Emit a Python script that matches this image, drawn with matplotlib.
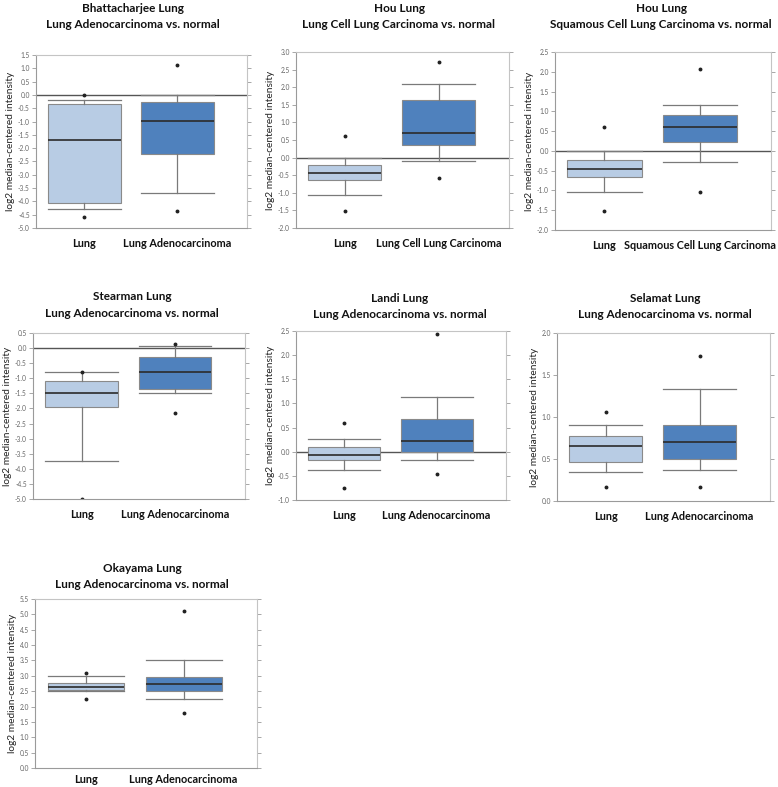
import matplotlib
matplotlib.use("Agg")
import matplotlib.pyplot as plt
from matplotlib.ticker import MultipleLocator, FormatStrFormatter

plt.rcParams['font.family'] = ['Lato', 'DejaVu Sans']

W, H = 778, 787

# panel titles and group names
datasets = ["Bhattacharjee Lung", "Hou Lung", "Hou Lung", "Stearman Lung",
            "Landi Lung", "Selamat Lung", "Okayama Lung"]
comparisons = ["Lung Adenocarcinoma vs. normal",
               "Lung Cell Lung Carcinoma vs. normal",
               "Squamous Cell Lung Carcinoma vs. normal",
               "Lung Adenocarcinoma vs. normal",
               "Lung Adenocarcinoma vs. normal",
               "Lung Adenocarcinoma vs. normal",
               "Lung Adenocarcinoma vs. normal"]
normal_label = "Lung"
tumor_labels = ["Lung Adenocarcinoma", "Lung Cell Lung Carcinoma",
                "Squamous Cell Lung Carcinoma", "Lung Adenocarcinoma",
                "Lung Adenocarcinoma", "Lung Adenocarcinoma",
                "Lung Adenocarcinoma"]

# normal lung boxes
normal_hi = [-0.20, 0.00, 0.00, -0.80, 0.26, 0.90, 2.98]
normal_q3 = [-0.33, -0.22, -0.22, -1.10, 0.10, 0.77, 2.77]
normal_med = [-1.68, -0.45, -0.46, -1.48, -0.07, 0.65, 2.63]
normal_q1 = [-4.07, -0.65, -0.65, -1.95, -0.18, 0.47, 2.55]
normal_lo = [-4.27, -1.05, -1.05, -3.75, -0.38, 0.34, 2.52]
normal_out = [[0.0, -4.57], [0.62, -1.53], [0.60, -1.53], [-0.78, -5.0],
              [0.60, -0.75], [1.06, 0.17], [3.08, 2.23]]

# tumour boxes
tumor_hi = [0.00, 2.10, 1.17, 0.08, 1.13, 1.33, 3.50]
tumor_q3 = [-0.28, 1.65, 0.90, -0.30, 0.67, 0.91, 2.97]
tumor_med = [-0.98, 0.70, 0.60, -0.80, 0.22, 0.70, 2.73]
tumor_q1 = [-2.22, 0.37, 0.23, -1.37, 0.00, 0.50, 2.50]
tumor_lo = [-3.68, -0.10, -0.28, -1.50, -0.18, 0.37, 2.23]
tumor_out = [[1.13, -4.35], [2.73, -0.58], [2.07, -1.03], [0.15, -2.15],
             [2.43, -0.46], [1.73, 0.17], [5.12, 1.78]]

# y axis ranges
y_min = [-5.0, -2.0, -2.0, -5.0, -1.0, 0.0, 0.0]
y_max = [1.5, 3.0, 2.5, 0.5, 2.5, 2.0, 5.5]

# panel frames in pixels: left, right, top, bottom
frames = [(36, 247, 55, 228), (296, 509, 52, 228), (555, 771, 52, 230),
          (33, 245, 333, 499), (296, 506, 331, 500), (557, 770, 333, 501),
          (35, 257, 599, 768)]
# title line centres in pixels: x, y of first line, y of second line
title_pos = [(133, 8, 25), (399, 8, 25), (661, 8, 25),
             (132, 297, 314), (400, 298, 315), (665, 298, 315),
             (142, 568, 585)]
# gap between axis and group labels
label_pad = [7, 7, 7, 7, 7, 7, 4]

fig = plt.figure(figsize=(W / 100, H / 100), dpi=100)

for i in range(len(datasets)):
    l, r, t, b = frames[i]
    ax = fig.add_axes([l / W, 1 - b / H, (r - l) / W, (b - t) / H])
    stats = [
        dict(med=normal_med[i], q1=normal_q1[i], q3=normal_q3[i],
             whislo=normal_lo[i], whishi=normal_hi[i], fliers=normal_out[i]),
        dict(med=tumor_med[i], q1=tumor_q1[i], q3=tumor_q3[i],
             whislo=tumor_lo[i], whishi=tumor_hi[i], fliers=tumor_out[i]),
    ]
    if y_min[i] < 0:
        ax.axhline(0, color="#555555", lw=1.0, zorder=1)
    bp = ax.bxp(stats, positions=[1, 2], widths=0.78, capwidths=0.78,
                patch_artist=True, showfliers=True,
                boxprops=dict(edgecolor="#8a8a8a", lw=0.8),
                whiskerprops=dict(color="#7a7a7a", lw=0.9),
                capprops=dict(color="#7a7a7a", lw=0.9),
                medianprops=dict(color="#2b2b2b", lw=1.2),
                flierprops=dict(marker="o", markersize=1.8, markerfacecolor="#222222",
                                markeredgecolor="#222222", linestyle="none"))
    bp["boxes"][0].set_facecolor("#b8cce4")
    bp["boxes"][1].set_facecolor("#4f81bd")
    for box in bp["boxes"]:
        box.set_zorder(2)
    for m in bp["medians"]:
        m.set_zorder(3)

    ax.set_xlim(0.48, 2.75)
    ax.set_ylim(y_min[i], y_max[i])
    ax.yaxis.set_major_locator(MultipleLocator(0.5))
    ax.yaxis.set_major_formatter(FormatStrFormatter("%.1f"))
    ax.tick_params(axis="y", which="both", left=True, right=True, direction="out",
                   length=3, width=0.6, color="#999999", labelsize=4.8,
                   labelcolor="#666666", pad=1.5)
    ax.set_xticks([1, 2])
    ax.set_xticklabels([normal_label, tumor_labels[i]], fontweight="bold",
                       fontsize=7.8, color="#111111")
    ax.tick_params(axis="x", length=0, pad=label_pad[i])
    for s in ["left", "bottom"]:
        ax.spines[s].set_color("#9a9a9a")
        ax.spines[s].set_linewidth(0.8)
    for s in ["top", "right"]:
        ax.spines[s].set_color("#c4c4c4")
        ax.spines[s].set_linewidth(0.8)
    ax.set_ylabel("log2 median-centered intensity", fontsize=7.3, color="#222222",
                  labelpad=2)

    tx, ty1, ty2 = title_pos[i]
    fig.text(tx / W, 1 - ty1 / H, datasets[i], ha="center", va="center",
             fontweight="bold", fontsize=8.5, color="#111111")
    fig.text(tx / W, 1 - ty2 / H, comparisons[i], ha="center", va="center",
             fontweight="bold", fontsize=8.5, color="#111111")

fig.savefig("out.png", dpi=100, facecolor="white")
